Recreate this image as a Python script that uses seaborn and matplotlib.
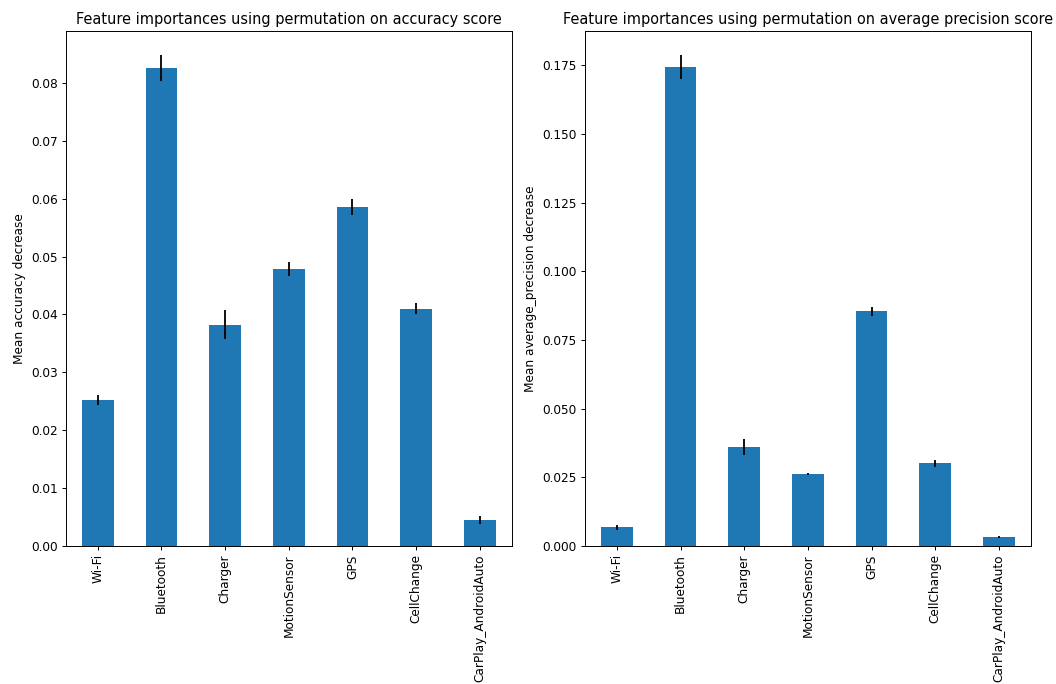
import matplotlib
matplotlib.use("Agg")
import matplotlib.pyplot as plt
import seaborn as sns

features = ["Wi-Fi", "Bluetooth", "Charger", "MotionSensor", "GPS",
            "CellChange", "CarPlay_AndroidAuto"]

acc_mean = [0.0252, 0.0826, 0.0382, 0.0478, 0.0586, 0.0410, 0.0044]
acc_std = [0.0009, 0.0022, 0.0025, 0.0012, 0.0014, 0.0010, 0.0007]

ap_mean = [0.0067, 0.1742, 0.0359, 0.0261, 0.0854, 0.0301, 0.0032]
ap_std = [0.0008, 0.0044, 0.0029, 0.0003, 0.0017, 0.0013, 0.0002]

panels = [
    (acc_mean, acc_std, "Feature importances using permutation on accuracy score",
     "Mean accuracy decrease"),
    (ap_mean, ap_std, "Feature importances using permutation on average precision score",
     "Mean average_precision decrease"),
]

scale = 0.87
plt.rcParams.update({
    "font.size": 10 * scale,
    "axes.titlesize": 12 * scale,
    "axes.labelsize": 10 * scale,
    "xtick.labelsize": 10 * scale,
    "ytick.labelsize": 10 * scale,
    "axes.linewidth": 0.8 * scale,
    "xtick.major.size": 3.5 * scale,
    "ytick.major.size": 3.5 * scale,
    "xtick.major.width": 0.8 * scale,
    "ytick.major.width": 0.8 * scale,
    "xtick.major.pad": 3.5 * scale,
    "ytick.major.pad": 3.5 * scale,
    "axes.titlepad": 6 * scale,
    "axes.labelpad": 4 * scale,
})

fig, axes = plt.subplots(1, 2, figsize=(10.56, 6.84), dpi=100)
fig.subplots_adjust(left=0.0625, right=0.976, bottom=0.202, top=0.955, wspace=0.165)

for ax, (mean, std, title, ylabel) in zip(axes, panels):
    sns.barplot(x=features, y=mean, width=0.5, color="#1f77b4", saturation=1,
                errorbar=None, ax=ax)
    ax.errorbar(range(len(features)), mean, yerr=std, fmt="none",
                ecolor="black", elinewidth=1.5 * scale)
    ax.set_title(title)
    ax.set_ylabel(ylabel)
    ax.set_xlabel("")
    ax.tick_params(axis="x", labelrotation=90)
    ax.set_xlim(-0.5, len(features) - 0.5)
    ax.margins(y=0.05)
    ax.autoscale_view()

fig.savefig("out.png", dpi=100)
